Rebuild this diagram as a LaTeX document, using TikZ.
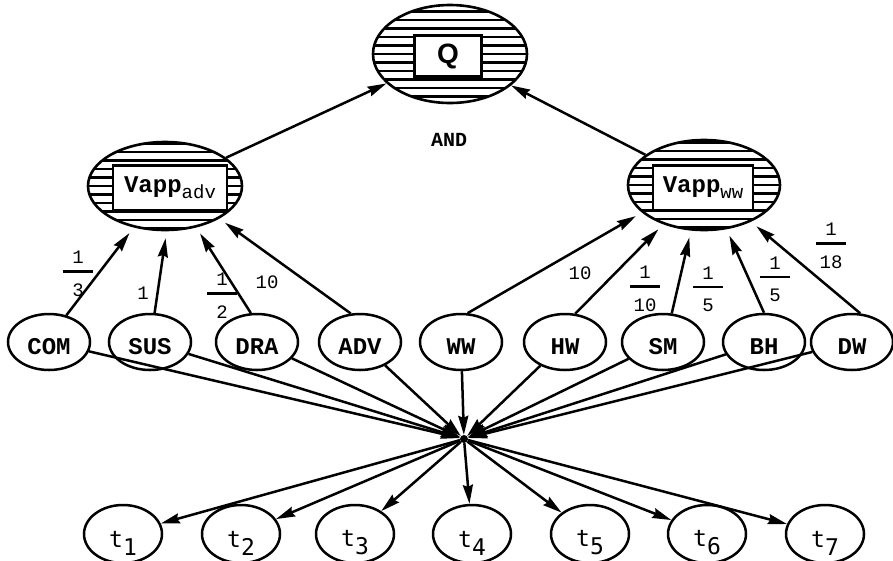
\documentclass[tikz,border=0pt]{standalone}
\usepackage{fontspec}
\setmonofont{Liberation Mono}
\setsansfont{Liberation Sans}
\newfontfamily\termfont{DejaVu Sans Mono}
\usetikzlibrary{shapes.geometric,arrows.meta}

%% weight written as a fraction with a wide bar
\newcommand{\wfrac}[2]{%
  \begin{tabular}{@{}c@{}}#1\\\rule[6pt]{30pt}{2.5pt}\\#2\end{tabular}}
%% Vapp with its subscript
\newcommand{\vapp}[1]{{\ttfamily\fontsize{24}{24}\selectfont\bfseries Vapp}%
  \raisebox{-6pt}{\ttfamily\fontsize{19}{19}\selectfont #1}}

\begin{document}
\begin{tikzpicture}
[x=1pt,y=-1pt,
  goaldecorate/.style={shape=ellipse,draw,line width=2.6pt,inner sep=0pt},%
  boxdecorate/.style={shape=rectangle,draw,fill=white,line width=2.6pt,inner sep=0pt},%
  hatchdecorate/.style={line width=2.2pt},%
  leafdecorate/.style={shape=ellipse,draw,line width=2.5pt,inner sep=0pt,
    minimum width=82pt,minimum height=56pt},%
  leaflabel/.style={font=\ttfamily\bfseries\fontsize{24}{24}\selectfont,yshift=-5pt},%
  termdecorate/.style={shape=ellipse,draw,line width=2.5pt,inner sep=0pt,
    minimum width=78pt,minimum height=58pt},%
  termlabel/.style={font=\termfont\fontsize{23}{23}\selectfont,yshift=-9pt},%
  weightdecorate/.style={font=\ttfamily\fontsize{19}{15}\selectfont,inner sep=0pt},%
  linedecorate/.style={-{Stealth[length=19pt,width=10pt,inset=2pt]},line width=2.5pt}]
\useasboundingbox (0,0) rectangle (893,560);

%% hatched goals
\foreach \nodename/\x/\y/\rx/\ry in {Q/450/54/77/49, Vadv/165/186/77/44, Vww/704/185/76/45}
{
  \begin{scope}
    \clip (\x,\y) ellipse [x radius=\rx pt, y radius=\ry pt];
    \foreach \k in {-6,...,6}
      \draw[hatchdecorate] (\x-\rx,\y+\k*8.5) -- (\x+\rx,\y+\k*8.5);
  \end{scope}
  \node (\nodename) at (\x,\y) [goaldecorate,minimum width=2*\rx pt,minimum height=2*\ry pt] {};
}
\node (Qbox) at (448,56) [boxdecorate,minimum width=67pt,minimum height=41pt,
  font=\sffamily\bfseries\fontsize{28}{28}\selectfont] {Q};
\node (Vadvbox) at (170,188) [boxdecorate,minimum width=114pt,minimum height=45pt] {\vapp{adv}};
\node (Vwwbox) at (703,188) [boxdecorate,minimum width=100pt,minimum height=45pt] {\vapp{ww}};
\node (and) at (449,140) [font=\ttfamily\bfseries\fontsize{20}{20}\selectfont] {AND};

%% leaves, hub and terms
\foreach \nodename/\x in {COM/49, SUS/150, DRA/257, ADV/360, WW/461, HW/565, SM/663, BH/764, DW/852}
{
  \node (\nodename) at (\x,342) [leafdecorate,label={[leaflabel]center:\nodename}] {};
}
\node (hub) at (464,439) [circle,fill,inner sep=0pt,minimum size=8pt] {};
\foreach \i/\x in {1/123, 2/241, 3/355, 4/472, 5/590, 6/707, 7/825}
{
  \node (t\i) at (\x,534) [termdecorate,label={[termlabel]center:t\raisebox{-8pt}{\i}}] {};
}

%% edges
\path
\foreach \startnode/\sa/\endnode/\ea in {COM/57/Vadv/233, SUS/81/Vadv/272, DRA/102/Vadv/307,
  ADV/108/Vadv/329, WW/77/Vww/204, HW/70/Vww/224, SM/73/Vww/254, BH/90/Vww/297, DW/74/Vww/322}
{
  (\startnode.\sa) edge[linedecorate,shorten >=7pt] (\endnode.\ea)
};
\path (Vadv) edge[linedecorate] (Q)
      (Vww) edge[linedecorate] (Q);
\path
\foreach \startnode in {COM,SUS,DRA,ADV,WW,HW,SM,BH,DW}
{
  (\startnode) edge[linedecorate] (hub)
};
\path
\foreach \i in {1,...,7}
{
  (hub) edge[linedecorate] (t\i)
};

%% weights
\foreach \nodename/\x/\y/\num/\den in {wCOM/78/276/1/3, wDRA/222/298/1/2, wHW/645/291/1/10,
  wSM/708/291/1/5, wBH/775/281/1/5, wDW/831/248/1/18}
{
  \node (\nodename) at (\x,\y) [weightdecorate] {\wfrac{\num}{\den}};
}
\foreach \nodename/\x/\y/\w in {wSUS/143/293/1, wADV/267/282/10, wWW/580/273/10}
{
  \node (\nodename) at (\x,\y) [weightdecorate] {\w};
}
\end{tikzpicture}
\end{document}
